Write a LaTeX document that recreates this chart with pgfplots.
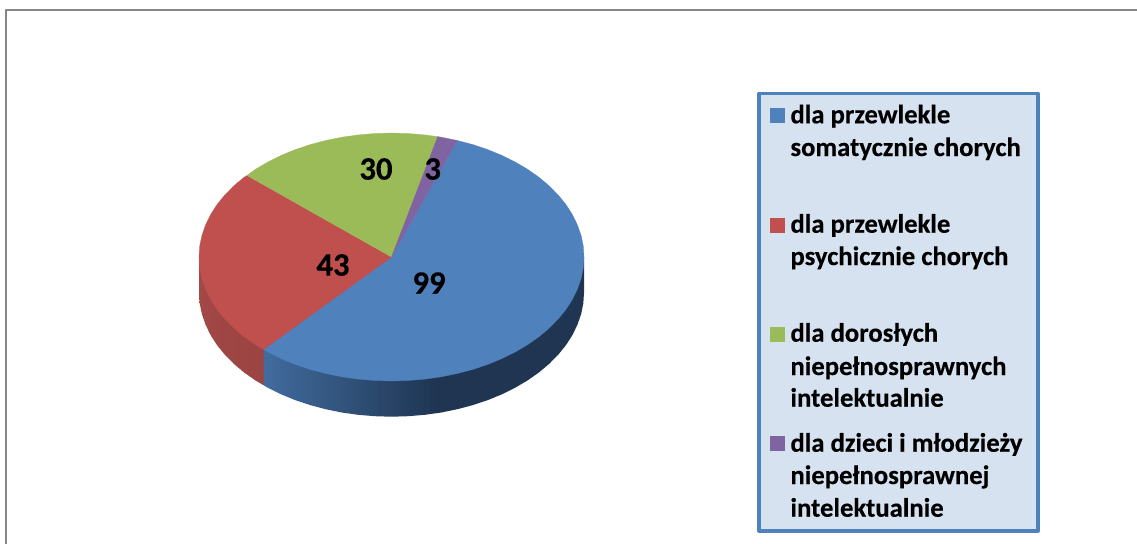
\documentclass[border=0pt]{standalone}
\usepackage{pgfplots}
\pgfplotsset{compat=1.18}
\usepackage{fontspec}
\setmainfont{Carlito}[BoldFeatures={FakeBold=0.35}]
\definecolor{pblue}{HTML}{4F81BD}
\definecolor{pred}{HTML}{C0504D}
\definecolor{pgreen}{HTML}{9BBB59}
\definecolor{ppurple}{HTML}{8064A2}
\definecolor{lfill}{HTML}{D6E2F0}
\definecolor{framec}{HTML}{868686}
\definecolor{ba}{HTML}{416C9E}
\definecolor{bb}{HTML}{1F3552}
\definecolor{ra}{HTML}{A24846}
\definecolor{rb}{HTML}{8A3A38}
\pgfdeclarehorizontalshading{bluerim}{100bp}{color(0bp)=(ba); color(25bp)=(ba); color(52bp)=(bb); color(100bp)=(bb)}
\pgfdeclarehorizontalshading{redrim}{100bp}{color(0bp)=(ra); color(25bp)=(ra); color(75bp)=(rb); color(100bp)=(rb)}
\newcommand{\lgt}[3]{\node[anchor=base west,inner sep=0pt,font=\fontsize{20pt}{22pt}\selectfont\bfseries] at (axis cs:#1,#2) {#3};}
\newcommand{\dlb}[3]{\node[anchor=center,inner sep=0pt,font=\fontsize{24.5pt}{26pt}\selectfont\bfseries] at (axis cs:#1,#2) {#3};}
\begin{document}
\begin{tikzpicture}
\path[use as bounding box] (0,0) rectangle (852.75pt,407.25pt);
\begin{axis}[
  scale only axis, width=852.75pt, height=407.25pt,
  xmin=-0.5, xmax=1136.5, ymin=0, ymax=543, y dir=reverse,
  hide axis, clip=true,
  every axis plot/.append style={line join=round}
]
% frame
\addplot[framec, line width=1.3pt, no marks] coordinates {(5.5,544) (5.5,9.9) (1138,9.9)};
% rim: blue
\addplot[draw=none, shading=bluerim, no marks] coordinates {
(583.5,257) (583.5,292.7) (582.8,303.5) (580.6,314.2) (576.9,324.8) (571.9,335.1) (565.5,345.1)
(557.7,354.7) (548.7,363.8) (538.5,372.4) (527.1,380.4) (514.7,387.7) (501.4,394.3) (487.3,400.1)
(472.4,405.1) (456.8,409.2) (440.8,412.5) (424.4,414.8) (407.8,416.2) (391,416.7) (374.2,416.2)
(357.6,414.8) (341.2,412.5) (325.2,409.2) (309.6,405.1) (294.7,400.1) (280.6,394.3) (267.3,387.7)
(263,385.2) (263,349.5) (391,257) (583.5,257)} --cycle;
% rim: red
\addplot[draw=none, shading=redrim, no marks] coordinates {
(263,385.2) (254.9,380.4) (243.5,372.4) (233.3,363.8) (224.3,354.7) (216.5,345.1) (210.1,335.1)
(205.1,324.8) (201.4,314.2) (199.2,303.5) (198.5,292.7) (198.5,257) (391,257) (263,349.5)} --cycle;
% top: blue, 99
\addplot[fill=pblue, draw=pblue, line width=0.2pt, no marks] coordinates {
(391,257) (456.8,140.5) (472.4,144.6) (487.3,149.6) (501.4,155.4) (514.7,162) (527.1,169.3) (538.5,177.3)
(548.7,185.9) (557.7,195) (565.5,204.6) (571.9,214.6) (576.9,224.9) (580.6,235.5) (582.8,246.2) (583.5,257)
(582.8,267.8) (580.6,278.5) (576.9,289.1) (571.9,299.4) (565.5,309.4) (557.7,319) (548.7,328.1) (538.5,336.7)
(527.1,344.7) (514.7,352) (501.4,358.6) (487.3,364.4) (472.4,369.4) (456.8,373.5) (440.8,376.8) (424.4,379.1)
(407.8,380.5) (391,381) (374.2,380.5) (357.6,379.1) (341.2,376.8) (325.2,373.5) (309.6,369.4) (294.7,364.4)
(280.6,358.6) (267.3,352) (263,349.5)} --cycle;
% top: red, 43
\addplot[fill=pred, draw=pred, line width=0.2pt, no marks] coordinates {
(391,257) (263,349.5) (254.9,344.7) (243.5,336.7) (233.3,328.1) (224.3,319) (216.5,309.4) (210.1,299.4)
(205.1,289.1) (201.4,278.5) (199.2,267.8) (198.5,257) (199.2,246.2) (201.4,235.5) (205.1,224.9) (210.1,214.6)
(216.5,204.6) (224.3,195) (233.3,185.9) (243.5,177.3) (246.5,175.5)} --cycle;
% top: green, 30
\addplot[fill=pgreen, draw=pgreen, line width=0.2pt, no marks] coordinates {
(391,257) (246.5,175.5) (254.9,169.3) (267.3,162) (280.6,155.4) (294.7,149.6) (309.6,144.6) (325.2,140.5)
(341.2,137.2) (357.6,134.9) (374.2,133.5) (391,133) (407.8,133.5) (424.4,134.9) (437.2,136.6)} --cycle;
% top: purple, 3
\addplot[fill=ppurple, draw=ppurple, line width=0.2pt, no marks] coordinates {
(391,257) (437.2,136.6) (440.8,137.2) (456.8,140.5)} --cycle;
\dlb{428.5}{283}{99}
\dlb{332.5}{265}{43}
\dlb{375.5}{169}{30}
\dlb{432.2}{169}{3}
% legend box
\addplot[fill=lfill, draw=pblue, line width=2.7pt, no marks] coordinates {(758.5,93.5) (1037.5,93.5) (1037.5,530.8) (758.5,530.8)} --cycle;
\addplot[fill=pblue, draw=none, no marks] coordinates {(769,108.3) (784,108.3) (784,123.3) (769,123.3)} --cycle;
\addplot[fill=pred, draw=none, no marks] coordinates {(769,218.3) (784,218.3) (784,233.3) (769,233.3)} --cycle;
\addplot[fill=pgreen, draw=none, no marks] coordinates {(769,327.2) (784,327.2) (784,342.2) (769,342.2)} --cycle;
\addplot[fill=ppurple, draw=none, no marks] coordinates {(769,436) (784,436) (784,451) (769,451)} --cycle;
\lgt{789.7}{123.3}{dla przewlekle}
\lgt{789.7}{156}{somatycznie chorych}
\lgt{789.7}{232.7}{dla przewlekle}
\lgt{789.7}{265}{psychicznie chorych}
\lgt{789.7}{341.7}{dla dorosłych}
\lgt{789.7}{375}{niepełnosprawnych}
\lgt{789.7}{406.7}{intelektualnie}
\lgt{789.7}{451.7}{dla dzieci i młodzieży}
\lgt{789.7}{484}{niepełnosprawnej}
\lgt{789.7}{516.7}{intelektualnie}
\end{axis}
\end{tikzpicture}
\end{document}
